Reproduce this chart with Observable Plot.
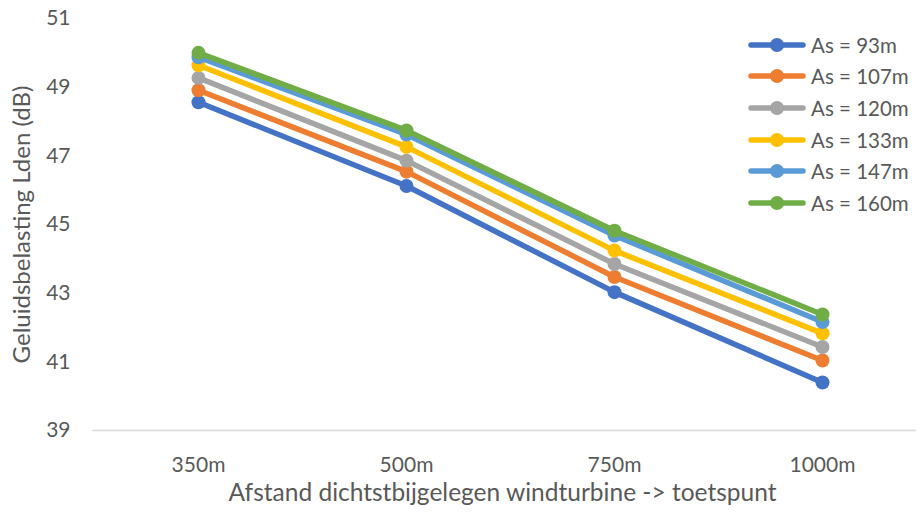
<!DOCTYPE html>
<html>
<head>
<meta charset="utf-8">
<script src="https://cdn.jsdelivr.net/npm/d3@7"></script>
<script src="https://cdn.jsdelivr.net/npm/@observablehq/plot@0.6"></script>
<style>
  body { margin: 0; background: #fff; }
  #wrap { position: relative; width: 916px; height: 515px; font-family: Lato, "Open Sans", sans-serif; }
  #legend { position: absolute; left: 748px; top: 29px; color: #595959; font-size: 20.5px; }
  #legend .row { display: flex; align-items: center; height: 31.6px; }
  #legend svg { margin-right: 5px; }
</style>
</head>
<body>
<div id="wrap"><div id="chart"></div><div id="legend"></div></div>
<script>
const categories = ["350m", "500m", "750m", "1000m"];
const seriesNames = ["As = 93m", "As = 107m", "As = 120m", "As = 133m", "As = 147m", "As = 160m"];
const colors = ["#4472C4", "#ED7D31", "#A5A5A5", "#FFC000", "#5B9BD5", "#70AD47"];
const as93  = [48.56, 46.12, 43.03, 40.40];
const as107 = [48.91, 46.54, 43.47, 41.04];
const as120 = [49.27, 46.86, 43.85, 41.43];
const as133 = [49.64, 47.26, 44.24, 41.83];
const as147 = [49.87, 47.62, 44.68, 42.16];
const as160 = [50.00, 47.74, 44.82, 42.38];
const yTicks = [39, 41, 43, 45, 47, 49, 51];
const xTitle = "Afstand dichtstbijgelegen windturbine -> toetspunt";
const yTitle = "Geluidsbelasting Lden (dB)";

const seriesValues = [as93, as107, as120, as133, as147, as160];
const data = seriesNames.flatMap((s, i) => categories.map((c, j) => ({series: s, cat: c, value: seriesValues[i][j]})));

const marks = [
  Plot.ruleY([39], {stroke: "#d9d9d9", strokeWidth: 1.3}),
  Plot.axisY({ticks: yTicks, tickSize: 0, tickPadding: 22, label: null, fontSize: 21}),
  Plot.axisX({tickSize: 0, tickPadding: 27, label: null, fontSize: 21}),
  Plot.text([yTitle], {frameAnchor: "left", textAnchor: "middle", rotate: -90, dx: -70, fontSize: 24, fill: "#595959"}),
  Plot.text([xTitle], {frameAnchor: "bottom", dy: 70, dx: -2, fontSize: 24.5, fill: "#595959"})
];
seriesNames.forEach((s, i) => {
  const d = data.filter(r => r.series === s);
  marks.push(Plot.line(d, {x: "cat", y: "value", stroke: colors[i], strokeWidth: 5.5, strokeLinejoin: "round"}));
  marks.push(Plot.dot(d, {x: "cat", y: "value", fill: colors[i], r: 7}));
});

const chart = Plot.plot({
  width: 916,
  height: 515,
  marginLeft: 92,
  marginRight: 0,
  marginTop: 18,
  marginBottom: 85,
  style: {fontFamily: "Lato, 'Open Sans', sans-serif", fontSize: "18px", color: "#595959", background: "#fff"},
  x: {type: "point", domain: categories, range: [197, 822], padding: 0},
  y: {domain: [39, 51]},
  marks
});
document.getElementById("chart").appendChild(chart);

const legend = document.getElementById("legend");
seriesNames.forEach((s, i) => {
  const row = document.createElement("div");
  row.className = "row";
  row.innerHTML = `<svg width="58" height="16"><line x1="3" y1="8" x2="55" y2="8" stroke="${colors[i]}" stroke-width="5.5" stroke-linecap="round"/><circle cx="29" cy="8" r="7" fill="${colors[i]}"/></svg><span>${s}</span>`;
  legend.appendChild(row);
});
</script>
</body>
</html>
